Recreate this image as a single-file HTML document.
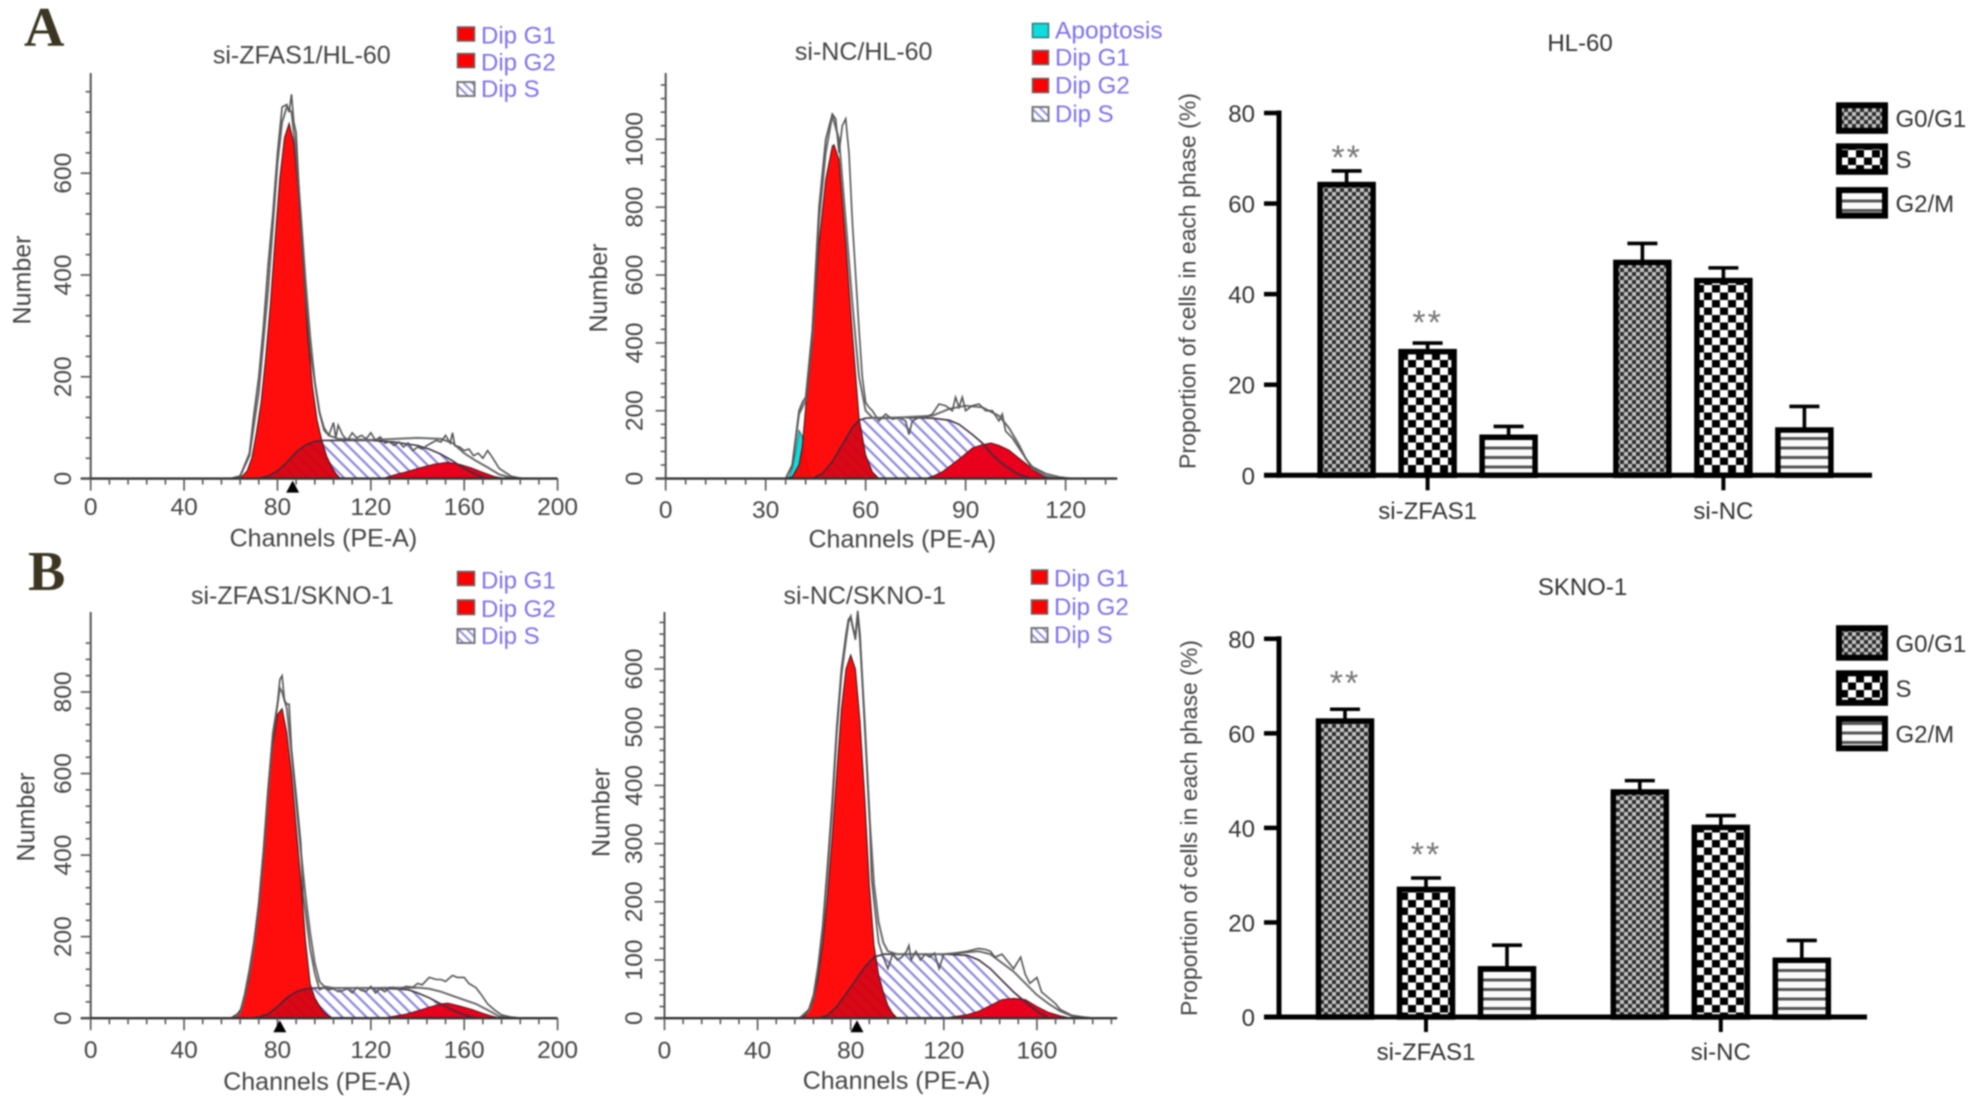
<!DOCTYPE html>
<html lang="en">
<head>
<meta charset="utf-8">
<title>Cell cycle analysis</title>
<style>
html,body{margin:0;padding:0;background:#fff;width:1978px;height:1107px;overflow:hidden}
svg{display:block;filter:blur(.8px)}
text{font-family:"Liberation Sans",sans-serif}
.ft{font-size:25px;fill:#444}
.leg{font-size:24px;fill:#7d72ea}
.bt{font-size:24px;fill:#333}
.letter{font-family:"Liberation Serif",serif;font-weight:bold;font-size:56px;fill:#3b3522}
</style>
</head>
<body>
<svg id="figure" xmlns="http://www.w3.org/2000/svg" width="1978" height="1107" viewBox="0 0 1978 1107">
<defs>
<pattern id="hatch" patternUnits="userSpaceOnUse" width="8.5" height="8.5" patternTransform="rotate(45)">
<rect x="0" y="0" width="8.5" height="2.2" fill="#8a86dc"/>
</pattern>
<pattern id="hatchSmall" patternUnits="userSpaceOnUse" width="6" height="6" patternTransform="rotate(45)">
<rect x="0" y="0" width="6" height="1.8" fill="#8a86dc"/>
</pattern>
<pattern id="patG1" patternUnits="userSpaceOnUse" width="8" height="8">
<rect width="8" height="8" fill="#c4c4c4"/>
<rect x="0" y="0" width="4" height="4" fill="#2c2c2c"/>
<rect x="4" y="4" width="4" height="4" fill="#2c2c2c"/>
</pattern>
<pattern id="patS" patternUnits="userSpaceOnUse" width="16" height="15">
<rect width="16" height="15" fill="#fff"/>
<rect x="0" y="0" width="8" height="7.5" fill="#000"/>
<rect x="8" y="7.5" width="8" height="7.5" fill="#000"/>
</pattern>
<pattern id="patM" patternUnits="userSpaceOnUse" width="10" height="9.5">
<rect width="10" height="9.5" fill="#fbfbfb"/>
<rect y="0" width="10" height="3" fill="#555"/>
</pattern>
</defs>

<text class="letter" x="24" y="46">A</text>
<text class="letter" x="28" y="590">B</text>

<text class="ft" x="301.8" y="63.5" text-anchor="middle">si-ZFAS1/HL-60</text>
<text class="ft" x="863.7" y="60" text-anchor="middle">si-NC/HL-60</text>
<text class="ft" x="292.4" y="604" text-anchor="middle">si-ZFAS1/SKNO-1</text>
<text class="ft" x="864.7" y="604" text-anchor="middle">si-NC/SKNO-1</text>

<text class="ft" x="323.4" y="546.4" text-anchor="middle">Channels (PE-A)</text>
<text class="ft" x="902.3" y="547.5" text-anchor="middle">Channels (PE-A)</text>
<text class="ft" x="317" y="1090" text-anchor="middle">Channels (PE-A)</text>
<text class="ft" x="896.5" y="1089" text-anchor="middle">Channels (PE-A)</text>

<text class="ft" transform="translate(30.6,280) rotate(-90)" text-anchor="middle">Number</text>
<text class="ft" transform="translate(607,288) rotate(-90)" text-anchor="middle">Number</text>
<text class="ft" transform="translate(34.4,817) rotate(-90)" text-anchor="middle">Number</text>
<text class="ft" transform="translate(609.4,812.5) rotate(-90)" text-anchor="middle">Number</text>

<g>
<rect x="457.5" y="27" width="17" height="14" fill="#f00" stroke="#666" stroke-width="1.5"/>
<text class="leg" x="481" y="43.6">Dip G1</text>
<rect x="457.5" y="53.6" width="17" height="14" fill="#f00" stroke="#666" stroke-width="1.5"/>
<text class="leg" x="481" y="70.7">Dip G2</text>
<rect x="457.5" y="82" width="17" height="14" fill="url(#hatchSmall)" stroke="#777" stroke-width="2"/>
<text class="leg" x="481" y="97">Dip S</text>
</g>
<g>
<rect x="1032.5" y="23.5" width="16" height="14" fill="#0fdcdc" stroke="#2a7a7a" stroke-width="1.5"/>
<text class="leg" x="1055" y="38.6" font-size="24.5" style="font-size:24.5px">Apoptosis</text>
<rect x="1032.5" y="50.5" width="16" height="14" fill="#f00" stroke="#666" stroke-width="1.5"/>
<text class="leg" x="1055" y="65.7">Dip G1</text>
<rect x="1032.5" y="78.5" width="16" height="14" fill="#f00" stroke="#666" stroke-width="1.5"/>
<text class="leg" x="1055" y="93.6">Dip G2</text>
<rect x="1032.5" y="107" width="16" height="14" fill="url(#hatchSmall)" stroke="#777" stroke-width="2"/>
<text class="leg" x="1055" y="122">Dip S</text>
</g>
<g>
<rect x="457.5" y="571.5" width="17" height="14" fill="#f00" stroke="#666" stroke-width="1.5"/>
<text class="leg" x="481" y="588.4">Dip G1</text>
<rect x="457.5" y="600" width="17" height="14.5" fill="#f00" stroke="#666" stroke-width="1.5"/>
<text class="leg" x="481" y="616.8">Dip G2</text>
<rect x="457.5" y="629" width="17" height="14" fill="url(#hatchSmall)" stroke="#777" stroke-width="2"/>
<text class="leg" x="481" y="644">Dip S</text>
</g>
<g>
<rect x="1031.5" y="570" width="16" height="14" fill="#f00" stroke="#666" stroke-width="1.5"/>
<text class="leg" x="1054" y="586.6">Dip G1</text>
<rect x="1031.5" y="600" width="16" height="14" fill="#f00" stroke="#666" stroke-width="1.5"/>
<text class="leg" x="1054" y="615">Dip G2</text>
<rect x="1031.5" y="628" width="16" height="14" fill="url(#hatchSmall)" stroke="#777" stroke-width="2"/>
<text class="leg" x="1054" y="643">Dip S</text>
</g>

<text class="bt" x="1580" y="50.9" text-anchor="middle">HL-60</text>
<text class="bt" x="1582.5" y="595" text-anchor="middle">SKNO-1</text>
<text x="0" y="0" transform="translate(1195.5,281) rotate(-90)" text-anchor="middle" font-size="23" fill="#444">Proportion of cells in each phase (%)</text>
<text x="0" y="0" transform="translate(1197,828) rotate(-90)" text-anchor="middle" font-size="23" fill="#444">Proportion of cells in each phase (%)</text>
</svg>

<script>
// ---------- Panel 1: si-ZFAS1 / HL-60 ----------
const p1XTicks = [0, 40, 80, 120, 160, 200];
const p1YTicks = [0, 200, 400, 600];
const p1G1Channels = [61,65,67,69,71,73,75,77,79,81,83,85,87,89,91,93,95,97,99,101,103,105,107];
const p1G1Counts = [0,5,15,40,90,150,240,345,470,590,670,698,660,560,420,280,180,115,75,45,25,10,0];
const p1SChannels = [68,72,76,80,84,88,92,96,100,110,120,130,140,145,150,155,160,165,170];
const p1SCounts = [0,1,5,15,32,52,66,73,75,75,75,72,65,58,48,35,20,8,0];
const p1G2Channels = [125,130,135,141,147,153,158,163,168,173,178];
const p1G2Counts = [0,7,13,21,28,32,28,21,12,4,0];
const p1RawChannels = [60,64,68,70,72,74,76,78,80,82,84,85,86,87,88,90,92,94,96,98,100,102,104,105,106,108,110,112,114,116,118,120,122,124,126,128,130,132,134,136,138,140,142,144,146,148,150,152,154,155,156,158,160,162,164,166,168,170,172,175,180,185];
const p1RawCounts = [0,5,50,130,200,300,420,520,640,730,735,720,755,700,680,500,360,250,190,130,100,85,110,80,105,85,75,90,80,85,78,90,75,82,70,72,65,72,62,70,55,62,58,65,70,75,72,85,70,90,65,62,55,58,45,50,40,55,42,20,5,0];
const p1FitChannels = [60,64,68,72,76,80,82,84,86,88,90,92,94,96,98,100,102,106,120,140,150,155,160,165,170,175,180,186];
const p1FitCounts = [0,5,45,170,370,620,700,730,720,640,520,390,280,190,130,95,85,78,76,80,78,70,50,35,22,8,2,0];
const p1MarkerChannel = [86.5];

// ---------- Panel 2: si-NC / HL-60 ----------
const p2XTicks = [0, 30, 60, 90, 120];
const p2YTicks = [0, 200, 400, 600, 800, 1000];
const p2ApoptosisChannels = [36,37,38,39,40,41,42,43,44];
const p2ApoptosisCounts = [0,5,30,80,142,125,60,20,0];
const p2G1Channels = [36,38,40,41,42,44,46,48,50,50.5,52,54,56,58,60,62,64];
const p2G1Counts = [0,5,40,95,210,400,695,880,980,984,940,695,430,180,70,20,0];
const p2SChannels = [44,47,50,53,56,58,60,65,70,80,85,88,92,95,98,100,103,106,110];
const p2SCounts = [0,15,50,100,150,172,178,180,180,178,172,160,130,105,70,52,30,12,0];
const p2G2Channels = [78,80.4,83,86,89,92,95,97.6,100,103,106,109,111,113.7,118];
const p2G2Counts = [0,8,20,42,65,90,100,105,98,84,60,37,20,5,0];
const p2RawChannels = [36,38,40,41,42,44,46,48,50,51,52,53,54,55,56,58,59,60,61,62,64,65,66,68,70,72,73,74,76,78,80,82,84,86,87,88,89,90,92,94,96,98,100,101,102,104,106,108,110,114,118,122];
const p2RawCounts = [0,40,200,225,240,440,800,1000,1075,1060,960,1040,1060,960,760,440,300,225,210,200,170,180,190,175,180,170,130,170,180,180,190,220,215,200,240,210,240,200,215,220,200,200,170,190,140,120,90,60,35,15,5,0];
const p2FitChannels = [36,38,40,42,44,46,48,50,52,54,56,58,60,62,65,70,80,85,90,95,100,103,106,108,110,114,118];
const p2FitCounts = [0,40,190,230,420,760,960,1070,1000,760,520,300,200,180,178,180,185,205,215,210,185,150,100,60,30,8,0];
const p2MarkerChannel = [];

// ---------- Panel 3: si-ZFAS1 / SKNO-1 ----------
const p3XTicks = [0, 40, 80, 120, 160, 200];
const p3YTicks = [0, 200, 400, 600, 800];
const p3G1Channels = [60,62,64,66,68,70,72,74,76,78,80,82,84,86,88,90,92,94,96,98,100,102,104];
const p3G1Counts = [0,5,20,50,100,180,290,420,560,670,745,759,700,600,470,340,190,85,50,30,15,5,0];
const p3SChannels = [68,72,76,80,84,88,92,96,110,120,130,136,140,145,150,155,160,165];
const p3SCounts = [0,3,10,28,50,65,72,74,74,73,72,70,62,50,35,20,8,0];
const p3G2Channels = [125,130,135,140,145,150,153,158,163,168,172,176];
const p3G2Counts = [0,5,10,18,27,35,37,30,22,12,5,0];
const p3RawChannels = [60,64,66,68,70,72,74,76,78,80,81,82,83,84,85,86,88,90,91,92,94,96,98,100,102,104,106,108,110,112,114,116,118,120,122,124,126,128,130,132,135,138,140,142,145,148,150,152,155,157,160,162,165,167,170,173,176,180,185];
const p3RawCounts = [0,15,60,120,190,280,400,560,700,770,830,840,780,770,770,660,550,430,300,260,170,110,70,75,70,72,65,68,72,62,75,68,66,78,62,72,65,75,75,70,78,76,85,82,100,95,95,90,105,100,100,85,75,60,35,20,8,3,0];
const p3FitChannels = [60,64,66,68,70,72,74,76,78,80,81,82,84,86,88,90,92,94,96,98,100,104,120,140,145,150,155,160,165,170,175,180];
const p3FitCounts = [0,12,55,110,185,280,410,560,690,770,810,800,760,650,530,410,300,210,135,90,78,74,74,75,72,65,55,45,35,20,5,0];
const p3MarkerChannel = [81];

// ---------- Panel 4: si-NC / SKNO-1 ----------
const p4XTicks = [0, 40, 80, 120, 160];
const p4YTicks = [0, 100, 200, 300, 400, 500, 600];
const p4G1Channels = [58,60,62,64,66,68,70,72,74,76,78,80,82,84,86,88,90,92,94,96,98,100];
const p4G1Counts = [0,3,12,30,70,130,210,310,420,530,600,624,600,510,380,230,125,75,45,22,8,0];
const p4SChannels = [66,70,74,78,82,86,90,94,100,110,120,130,135,140,145,150,155,160,165];
const p4SCounts = [0,5,20,42,65,88,105,110,110,110,110,108,100,85,65,45,28,12,0];
const p4G2Channels = [120,125,130,135,140,145,150,155,160,165,170,175];
const p4G2Counts = [0,3,6,12,22,32,34,32,20,10,4,0];
const p4RawChannels = [58,62,64,66,68,70,72,74,76,78,79,80,81,82,83,84,86,88,89,90,92,94,96,98,100,102,104,105,106,108,110,112,114,116,118,120,125,130,135,138,140,142,145,148,150,153,155,157,160,162,165,168,170,175,180,185];
const p4RawCounts = [0,15,40,90,160,260,370,500,600,660,685,690,670,650,700,660,500,360,240,200,130,105,85,110,100,105,115,125,100,115,100,110,105,112,85,110,112,115,120,118,115,105,110,95,85,105,75,60,70,45,35,25,15,5,2,0];
const p4FitChannels = [58,62,64,66,68,70,72,74,76,78,79,80,81,82,83,84,86,88,90,92,94,96,100,120,135,140,145,150,155,160,165,170,175,180];
const p4FitCounts = [0,12,35,85,155,250,360,490,590,650,680,690,670,655,695,650,510,350,230,165,130,115,110,110,115,110,95,80,60,40,25,12,4,0];
const p4MarkerChannel = [82.7];

// ---------- Bar charts ----------
const barCategories = ['si-ZFAS1', 'si-NC'];
const barPhases = ['G0/G1', 'S', 'G2/M'];
const barTickLabels = [0, 20, 40, 60, 80];
const hl60Means = [[64.2, 27.3, 8.4], [47, 43, 10]];
const hl60ErrorTops = [[67.2, 29.2, 10.8], [51.2, 45.8, 15.2]];
const hl60StarLevels = [[71.2, 34.7, null], [null, null, null]];
const skno1Means = [[62.6, 27, 10.2], [47.6, 40.1, 12]];
const skno1ErrorTops = [[65.1, 29.4, 15.2], [50, 42.6, 16.2]];
const skno1StarLevels = [[71.6, 35.3, null], [null, null, null]];

const NS = 'http://www.w3.org/2000/svg';
const fig = document.getElementById('figure');
function mk(parent, tag, attrs, txt) {
  const el = document.createElementNS(NS, tag);
  for (const k in attrs) el.setAttribute(k, attrs[k]);
  if (txt !== undefined) el.textContent = txt;
  parent.appendChild(el);
  return el;
}
function pathOf(xs, ys, sx, sy, close) {
  let d = '';
  xs.forEach(function (v, i) { d += (i ? 'L' : 'M') + sx(v).toFixed(1) + ' ' + sy(ys[i]).toFixed(1); });
  return d + (close ? 'Z' : '');
}

function drawHistogram(c) {
  const sx = function (v) { return c.x0 + (v - c.xRef0) * (c.xPx1 - c.x0) / (c.xRef1 - c.xRef0); };
  const sy = function (v) { return c.y0 + v * (c.yPx1 - c.y0) / c.yRef1; };
  const g = mk(fig, 'g', {});
  
  

  const sFill = mk(g, 'path', { d: pathOf(c.s[0], c.s[1], sx, sy, true), fill: 'url(#hatch)' });
  
  
  if (c.apo) {
    const apo = mk(g, 'path', { d: pathOf(c.apo[0], c.apo[1], sx, sy, true), fill: '#0fdcdc', stroke: '#2b6f6f', 'stroke-width': 1 });
    
    
  }
  const g1 = mk(g, 'path', { d: pathOf(c.g1[0], c.g1[1], sx, sy, true), fill: '#f00', 'fill-opacity': .95, stroke: '#3a1010', 'stroke-width': 1 });
  
  
  const g2 = mk(g, 'path', { d: pathOf(c.g2[0], c.g2[1], sx, sy, true), fill: '#e8001c', stroke: '#5a1515', 'stroke-width': 1 });
  
  
  const sOverlay = mk(g, 'path', { d: pathOf(c.s[0], c.s[1], sx, sy, false), fill: 'none', stroke: '#3c2f3c', 'stroke-width': 1.6 });
  
  
  const shade = mk(g, 'clipPath', { id: c.name + '-clip' });
  mk(shade, 'path', { d: pathOf(c.s[0], c.s[1], sx, sy, true) });
  const dark = mk(g, 'path', { d: pathOf(c.g1[0], c.g1[1], sx, sy, true), fill: '#7a0030', 'fill-opacity': .3, 'clip-path': 'url(#' + c.name + '-clip)' });
  
  

  const fit = mk(g, 'path', { d: pathOf(c.fit[0], c.fit[1], sx, sy, false), fill: 'none', stroke: '#6a6a6a', 'stroke-width': 2 });
  
  
  const raw = mk(g, 'path', { d: pathOf(c.raw[0], c.raw[1], sx, sy, false), fill: 'none', stroke: '#555', 'stroke-width': 1.6 });
  
  

  const ink = '#555';
  const yAxis = mk(g, 'line', { x1: c.x0, x2: c.x0, y1: c.y0, y2: c.yTop, stroke: ink, 'stroke-width': 2 });
  
  
  const xAxis = mk(g, 'line', { x1: c.x0 - 10, x2: c.xEnd, y1: c.y0, y2: c.y0, stroke: '#333', 'stroke-width': 2.4 });
  
  

  for (let v = 0; v <= c.yMinorMax + 1e-6; v += c.yMinor) {
    const major = c.yt.indexOf(v) >= 0;
    const t = mk(g, 'line', { x1: c.x0 - (major ? 10 : 5), x2: c.x0, y1: sy(v), y2: sy(v), stroke: ink, 'stroke-width': 1.6 });
    
    
  }
  c.yt.forEach(function (v) {
    const py = sy(v);
    const l = mk(g, 'text', { transform: 'translate(' + c.yLabelX + ',' + py + ') rotate(-90)', 'text-anchor': 'middle', 'font-size': 24.5, fill: '#444' }, String(v));
    
    
  });
  for (let v = 0; v <= c.xMinorMax + 1e-6; v += c.xMinor) {
    const major = c.xt.indexOf(v) >= 0;
    const t = mk(g, 'line', { x1: sx(v), x2: sx(v), y1: c.y0, y2: c.y0 + (major ? 12 : 6), stroke: ink, 'stroke-width': 1.6 });
    
    
  }
  c.xt.forEach(function (v) {
    const l = mk(g, 'text', { x: sx(v), y: c.xLabelY, 'text-anchor': 'middle', 'font-size': 24.5, fill: '#444' }, String(v));
    
    
  });
  c.marker.forEach(function (v) {
    const px = sx(v);
    const m = mk(g, 'polygon', { points: (px - 6.5) + ',' + (c.y0 + 14) + ' ' + (px + 6.5) + ',' + (c.y0 + 14) + ' ' + px + ',' + (c.y0 + 2), fill: '#000' });
    
    
  });
}

drawHistogram({ name: 'histogram-zfas1-hl60', x0: 90.7, xRef0: 0, xRef1: 200, xPx1: 557.6, xEnd: 557.6, y0: 478.6, yRef1: 600, yPx1: 173.2, yTop: 73,
  xt: p1XTicks, yt: p1YTicks, xMinor: 8, xMinorMax: 200, yMinor: 40, yMinorMax: 760, yLabelX: 70.8, xLabelY: 515,
  g1: [p1G1Channels, p1G1Counts], s: [p1SChannels, p1SCounts], g2: [p1G2Channels, p1G2Counts], raw: [p1RawChannels, p1RawCounts], fit: [p1FitChannels, p1FitCounts], marker: p1MarkerChannel });
drawHistogram({ name: 'histogram-nc-hl60', x0: 665.7, xRef0: 0, xRef1: 120, xPx1: 1065.6, xEnd: 1117.3, y0: 478.6, yRef1: 1000, yPx1: 139.3, yTop: 73,
  xt: p2XTicks, yt: p2YTicks, xMinor: 6, xMinorMax: 132, yMinor: 40, yMinorMax: 1160, yLabelX: 642.7, xLabelY: 518,
  apo: [p2ApoptosisChannels, p2ApoptosisCounts], g1: [p2G1Channels, p2G1Counts], s: [p2SChannels, p2SCounts], g2: [p2G2Channels, p2G2Counts], raw: [p2RawChannels, p2RawCounts], fit: [p2FitChannels, p2FitCounts], marker: p2MarkerChannel });
drawHistogram({ name: 'histogram-zfas1-skno1', x0: 90.7, xRef0: 0, xRef1: 200, xPx1: 557.6, xEnd: 557.6, y0: 1018.2, yRef1: 800, yPx1: 692, yTop: 612,
  xt: p3XTicks, yt: p3YTicks, xMinor: 8, xMinorMax: 200, yMinor: 40, yMinorMax: 920, yLabelX: 70.8, xLabelY: 1058,
  g1: [p3G1Channels, p3G1Counts], s: [p3SChannels, p3SCounts], g2: [p3G2Channels, p3G2Counts], raw: [p3RawChannels, p3RawCounts], fit: [p3FitChannels, p3FitCounts], marker: p3MarkerChannel });
drawHistogram({ name: 'histogram-nc-skno1', x0: 664.5, xRef0: 0, xRef1: 160, xPx1: 1036.9, xEnd: 1117.2, y0: 1018.2, yRef1: 600, yPx1: 669, yTop: 612,
  xt: p4XTicks, yt: p4YTicks, xMinor: 8, xMinorMax: 192, yMinor: 20, yMinorMax: 680, yLabelX: 642, xLabelY: 1058.7,
  g1: [p4G1Channels, p4G1Counts], s: [p4SChannels, p4SCounts], g2: [p4G2Channels, p4G2Counts], raw: [p4RawChannels, p4RawCounts], fit: [p4FitChannels, p4FitCounts], marker: p4MarkerChannel });

function drawBars(c) {
  const sy = function (v) { return c.y0 + v * (c.y80 - c.y0) / 80; };
  const fills = ['url(#patG1)', 'url(#patS)', 'url(#patM)'];
  const g = mk(fig, 'g', {});
  
  

  c.means.forEach(function (group, gi) {
    group.forEach(function (v, si) {
      const cx = c.centers[gi] + (si - 1) * 81;
      const cap = mk(g, 'path', { d: 'M' + cx + ' ' + sy(v) + 'V' + sy(c.tops[gi][si]) + 'M' + (cx - 15) + ' ' + sy(c.tops[gi][si]) + 'H' + (cx + 15), fill: 'none', stroke: '#000', 'stroke-width': 3.6 });
      
      
      const bar = mk(g, 'rect', { x: cx - 26.5, y: sy(v), width: 53, height: sy(0) - sy(v), fill: fills[si], stroke: '#000', 'stroke-width': 5.5 });
      
      
      if (c.stars[gi][si] !== null) {
        const star = mk(g, 'text', { x: cx, y: sy(c.stars[gi][si]) + 16, 'text-anchor': 'middle', 'font-size': 34, 'letter-spacing': 2, fill: '#777' }, '**');
        
        
      }
    });
    const t = mk(g, 'line', { x1: c.centers[gi], x2: c.centers[gi], y1: c.y0, y2: c.y0 + 15, stroke: '#000', 'stroke-width': 4 });
    
    
    const l = mk(g, 'text', { x: c.centers[gi], y: c.catY, 'text-anchor': 'middle', 'font-size': 24, fill: '#333' }, barCategories[gi]);
    
    
  });

  const yAxis = mk(g, 'line', { x1: 1279, x2: 1279, y1: sy(80) - 2.5, y2: sy(0) + 2.5, stroke: '#000', 'stroke-width': 5 });
  
  
  const xAxis = mk(g, 'line', { x1: 1264, x2: c.xEnd, y1: sy(0), y2: sy(0), stroke: '#000', 'stroke-width': 5 });
  
  
  barTickLabels.forEach(function (v) {
    const t = mk(g, 'line', { x1: 1264, x2: 1279, y1: sy(v), y2: sy(v), stroke: '#000', 'stroke-width': 4.5 });
    
    
    const l = mk(g, 'text', { x: 1255, y: sy(v) + 9, 'text-anchor': 'end', 'font-size': 24, fill: '#333' }, String(v));
    
    
  });

  barPhases.forEach(function (name, i) {
    const sw = mk(g, 'rect', { x: 1839, y: c.legY[i] + 2.5, width: 46, height: c.legH - 5, fill: fills[i], stroke: '#000', 'stroke-width': 6 });
    
    
    const l = mk(g, 'text', { x: 1895.5, y: c.legY[i] + c.legH / 2 + 9, 'font-size': 24, fill: '#333' }, name);
    
    
  });
}

drawBars({ name: 'bar-chart-hl60', y0: 475.3, y80: 113, xEnd: 1872, catY: 519, centers: [1427.6, 1723.4], means: hl60Means, tops: hl60ErrorTops, stars: hl60StarLevels, legY: [102.8, 143.8, 187.6], legH: 30.5 });
drawBars({ name: 'bar-chart-skno1', y0: 1017, y80: 638.8, xEnd: 1867, catY: 1059.8, centers: [1426, 1720.8], means: skno1Means, tops: skno1ErrorTops, stars: skno1StarLevels, legY: [625.7, 670.8, 716.3], legH: 34.5 });
</script>
</body>
</html>
